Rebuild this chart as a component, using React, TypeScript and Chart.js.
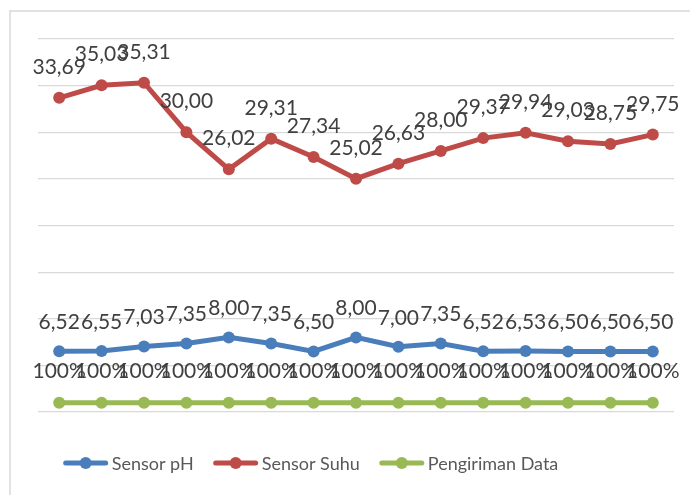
import React, { useEffect, useRef } from "react";
import { Chart, registerables } from "chart.js";

Chart.register(...registerables);

const categories = ["1", "2", "3", "4", "5", "6", "7", "8", "9", "10", "11", "12", "13", "14", "15"];
const sensorPH = [6.52, 6.55, 7.03, 7.35, 8.0, 7.35, 6.5, 8.0, 7.0, 7.35, 6.52, 6.53, 6.5, 6.5, 6.5];
const sensorSuhu = [33.69, 35.03, 35.31, 30.0, 26.02, 29.31, 27.34, 25.02, 26.63, 28.0, 29.37, 29.94, 29.03, 28.75, 29.75];
const pengirimanData = [1, 1, 1, 1, 1, 1, 1, 1, 1, 1, 1, 1, 1, 1, 1];
const seriesNames = ["Sensor pH", "Sensor Suhu", "Pengiriman Data"];
const yMin = 0;
const yMax = 40;
const yStep = 5;

const BLUE = "#4a7ebb";
const RED = "#be4b48";
const GREEN = "#98b954";
const FONT = "Lato, 'Noto Sans', sans-serif";

const fmtDec = (v: number) => v.toFixed(2).replace(".", ",");
const fmtPct = (v: number) => `${Math.round(v * 100)}%`;

const frameBg = {
  id: "frameBg",
  beforeDraw(chart: any) {
    const ctx = chart.ctx;
    ctx.save();
    ctx.fillStyle = "#ffffff";
    ctx.fillRect(0, 0, chart.width, chart.height);
    ctx.strokeStyle = "#d9d9d9";
    ctx.lineWidth = 1.5;
    ctx.strokeRect(10, 11, chart.width + 20, chart.height + 20);
    ctx.restore();
  },
};

const dataLabels = {
  id: "dataLabels",
  afterDatasetsDraw(chart: any) {
    const ctx = chart.ctx;
    ctx.save();
    ctx.font = `21px ${FONT}`;
    ctx.fillStyle = "#404040";
    ctx.textAlign = "center";
    ctx.textBaseline = "alphabetic";
    chart.data.datasets.forEach((ds: any, i: number) => {
      const meta = chart.getDatasetMeta(i);
      meta.data.forEach((pt: any, j: number) => {
        const v = ds.data[j];
        const txt = ds.labelFormat === "pct" ? fmtPct(v) : fmtDec(v);
        ctx.fillText(txt, pt.x, pt.y - ds.labelOffset);
      });
    });
    ctx.restore();
  },
};

const customLegend = {
  id: "customLegend",
  afterDraw(chart: any) {
    const ctx = chart.ctx;
    ctx.save();
    ctx.font = `18px ${FONT}`;
    const sample = 44;
    const gapText = 4;
    const gapItem = 20;
    const items = chart.data.datasets.map((ds: any) => ({
      label: ds.label,
      color: ds.borderColor,
      w: sample + gapText + ctx.measureText(ds.label).width,
    }));
    const total = items.reduce((s: number, it: any) => s + it.w, 0) + gapItem * (items.length - 1);
    let x = 311 - total / 2;
    const y = 463;
    items.forEach((it: any) => {
      ctx.strokeStyle = it.color;
      ctx.lineWidth = 5;
      ctx.lineCap = "round";
      ctx.beginPath();
      ctx.moveTo(x + 2, y);
      ctx.lineTo(x + sample - 2, y);
      ctx.stroke();
      ctx.fillStyle = it.color;
      ctx.beginPath();
      ctx.arc(x + sample / 2, y, 6, 0, Math.PI * 2);
      ctx.fill();
      ctx.fillStyle = "#595959";
      ctx.textBaseline = "middle";
      ctx.textAlign = "left";
      ctx.fillText(it.label, x + sample + gapText, y + 1);
      x += it.w + gapItem;
    });
    ctx.restore();
  },
};

export default function App() {
  const ref = useRef<HTMLCanvasElement | null>(null);
  useEffect(() => {
    if (!ref.current) return;
    const mk = (label: string, data: number[], color: string, labelFormat: string, labelOffset: number) => ({
      label,
      data,
      borderColor: color,
      backgroundColor: color,
      borderWidth: 5,
      pointRadius: 6,
      pointBorderWidth: 0,
      pointBackgroundColor: color,
      tension: 0,
      labelFormat,
      labelOffset,
    });
    const chart = new Chart(ref.current, {
      type: "line",
      data: {
        labels: categories,
        datasets: [
          mk(seriesNames[0], sensorPH, BLUE, "dec", 22),
          mk(seriesNames[1], sensorSuhu, RED, "dec", 24),
          mk(seriesNames[2], pengirimanData, GREEN, "pct", 25),
        ] as any,
      },
      options: {
        responsive: false,
        animation: false,
        devicePixelRatio: 1,
        layout: { padding: { left: 38, right: 16, top: 39, bottom: 83 } },
        plugins: { legend: { display: false }, tooltip: { enabled: false } },
        scales: {
          x: { display: false, offset: true },
          y: {
            display: true,
            min: yMin,
            max: yMax,
            ticks: { display: false, stepSize: yStep },
            grid: { color: "#d9d9d9", lineWidth: 1.2, drawTicks: false },
            border: { display: false },
          },
        },
      },
      plugins: [frameBg, dataLabels, customLegend],
    });
    return () => chart.destroy();
  }, []);
  return (
    <div style={{ position: "absolute", left: 0, top: 0, width: 690, height: 495 }}>
      <canvas ref={ref} width={690} height={495} style={{ width: 690, height: 495, display: "block" }} />
    </div>
  );
}
